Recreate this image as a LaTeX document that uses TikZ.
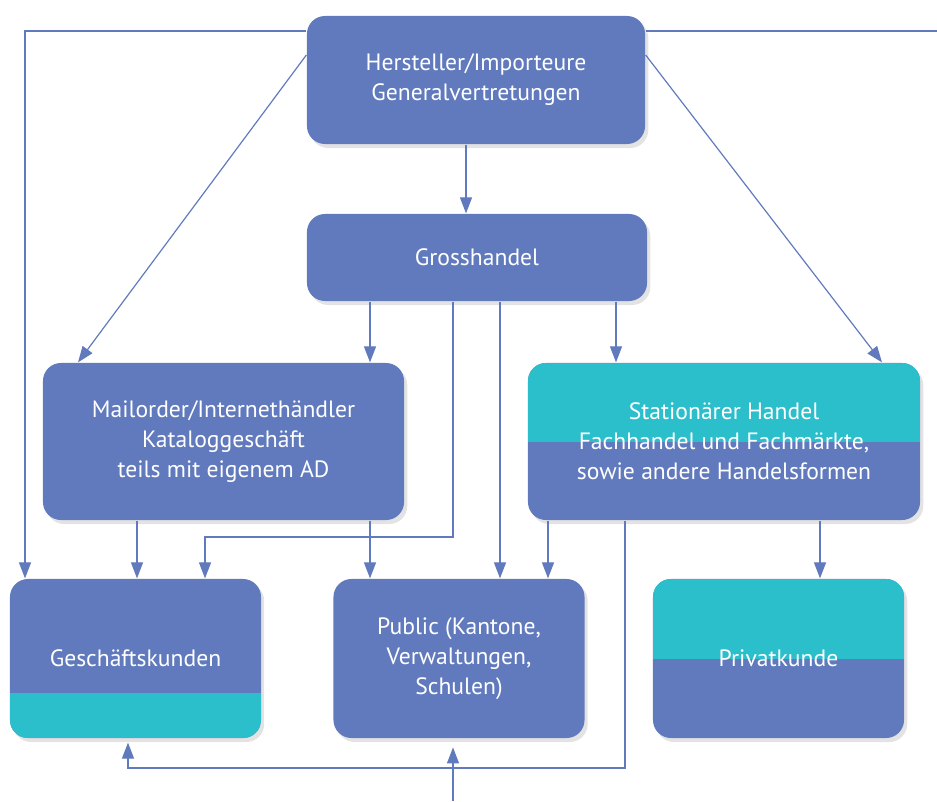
\documentclass[tikz,border=0pt]{standalone}
\usepackage{fontspec}
\setmainfont{PT Sans}
\usetikzlibrary{arrows.meta, positioning, shadows}
\definecolor{boxblue}{RGB}{96,122,189}
\definecolor{boxteal}{RGB}{43,191,204}
\def\kundew{6.275cm}
\def\kundeh{3.975cm}

\begin{document}
\begin{tikzpicture}[x=0.025cm, y=-0.025cm, draw=boxblue, line width=0.85pt, >={Triangle[length=0.4cm,width=0.3cm]}]
    \tikzstyle{box}=[rounded corners=0.45cm, fill=boxblue, text=white, align=center, inner sep=0pt, font=\fontsize{16.8}{21.3}\selectfont, drop shadow={shadow xshift=0.08cm, shadow yshift=-0.1cm, opacity=0.22}]
    \tikzstyle{tophalf}=[path picture={\fill[boxteal, sharp corners] (path picture bounding box.north west) rectangle (path picture bounding box.east);}]
    \tikzstyle{bottomband}=[path picture={\fill[boxteal, sharp corners] (path picture bounding box.south west) rectangle ([yshift=1.125cm]path picture bounding box.south east);}]
    \tikzstyle{kunde}=[box, minimum width=\kundew, minimum height=\kundeh]

    \useasboundingbox (0,0) rectangle (937,801);

    % Draw the supplier levels
    \node[box, minimum width=8.45cm, minimum height=3.2cm] (hers) at (476,80) {Hersteller/Importeure\\Generalvertretungen};
    \node[box, minimum width=8.5cm, minimum height=2.175cm] (gross) at (477,257.5) {Grosshandel};

    % Draw the trade channels
    \node[box, minimum width=9.025cm, minimum height=3.925cm] (mail) at (223.5,441.5) {Mailorder/Internethändler\\Kataloggeschäft\\teils mit eigenem AD};
    \node[box, tophalf, minimum width=9.8cm, minimum height=3.925cm] (stat) at (724,441.5) {Stationärer Handel\\Fachhandel und Fachmärkte,\\sowie andere Handelsformen};

    % Draw the customers
    \node[kunde, bottomband] (gesch) at (135.5,658.5) {Geschäftskunden};
    \node[kunde] (public) at (459,658.5) {Public (Kantone,\\Verwaltungen,\\Schulen)};
    \node[kunde, tophalf] (privat) at (778.5,658.5) {Privatkunde};

    \coordinate (rightend) at (937,31);
    \coordinate (bottomend) at (453,801);

    % Connect Hersteller with the levels below
    \draw[->] (hers.west |- 0,31) -- (25,31) -- (25,0 |- gesch.north);
    \draw (hers.east |- 0,31) -- (rightend);
    \draw[->] (466,0 |- hers.south) -- (466,0 |- gross.north);
    \draw[->] (hers.west |- 0,55) -- (78,0 |- mail.north);
    \draw[->] (hers.east |- 0,55) -- (882,0 |- stat.north);

    % Connect Grosshandel
    \draw[->] (370,0 |- gross.south) -- (370,0 |- mail.north);
    \draw[->] (616,0 |- gross.south) -- (616,0 |- stat.north);
    \draw[->] (500,0 |- gross.south) -- (500,0 |- public.north);
    \draw[->] (453,0 |- gross.south) -- (453,537) -- (205,537) -- (205,0 |- gesch.north);

    % Connect Mailorder
    \draw[->] (137,0 |- mail.south) -- (137,0 |- gesch.north);
    \draw[->] (370,0 |- mail.south) -- (370,0 |- public.north);

    % Connect Stationaerer Handel
    \draw[->] (548,0 |- stat.south) -- (548,0 |- public.north);
    \draw[->] (820,0 |- stat.south) -- (820,0 |- privat.north);
    \draw[->, shorten >=0.1cm] (625,0 |- stat.south) -- (625,768) -- (128,768) -- (128,0 |- gesch.south);
    \draw[->, shorten >=0.22cm] (bottomend) -- (453,0 |- public.south);
\end{tikzpicture}
\end{document}
